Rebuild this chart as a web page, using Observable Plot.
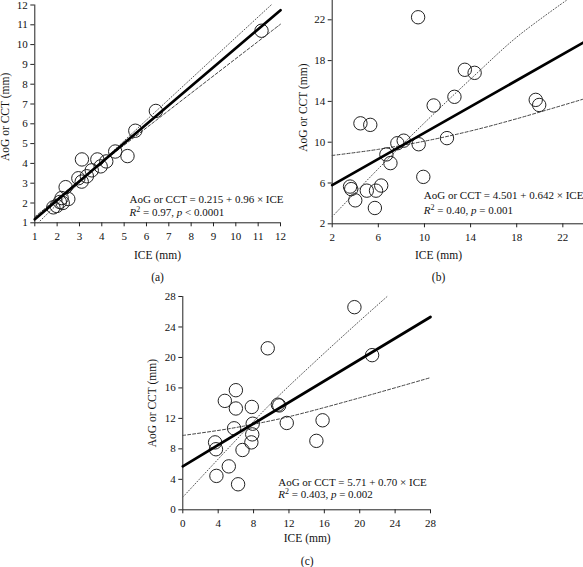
<!DOCTYPE html>
<html>
<head>
<meta charset="utf-8">
<script src="https://cdn.jsdelivr.net/npm/d3@7"></script>
<script src="https://cdn.jsdelivr.net/npm/@observablehq/plot@0.6"></script>
<style>
  html, body { margin: 0; padding: 0; background: #fff; }
  #root { position: relative; width: 583px; height: 567px; overflow: hidden; background: #fff; }
  #root > svg { position: absolute; }
</style>
</head>
<body>
<div id="root"></div>
<script>
// ---------- Data ----------
// Panel (a)
const aICE = [1.83, 1.98, 2.12, 2.25, 2.2, 2.5, 2.38, 2.95, 3.1, 3.11, 3.33, 3.55, 3.8, 3.95, 4.2, 4.6, 5.15, 5.5, 6.42, 11.15];
const aAoG = [1.78, 1.85, 2.05, 2.0, 2.25, 2.2, 2.8, 3.25, 3.08, 4.2, 3.35, 3.65, 4.2, 3.85, 4.1, 4.6, 4.37, 5.65, 6.65, 10.7];
const aDottedX = [1.15, 3.7, 11.58];
const aDottedY = [1.0, 3.77, 12.0];
const aDashedX = [1.0, 3.7, 12.0];
const aDashedY = [1.3, 3.77, 11.03];
const aTicksX = [1, 2, 3, 4, 5, 6, 7, 8, 9, 10, 11, 12];
const aTicksY = [1, 2, 3, 4, 5, 6, 7, 8, 9, 10, 11, 12];

// Panel (b)
const bICE = [3.55, 3.65, 4.0, 4.45, 5.0, 5.3, 5.7, 5.8, 6.25, 6.7, 7.05, 7.65, 8.2, 9.45, 9.5, 9.9, 10.8, 11.95, 12.6, 13.5, 14.35, 19.65, 19.95];
const bAoG = [5.65, 5.4, 4.3, 11.85, 5.25, 11.7, 3.55, 5.25, 5.75, 8.8, 7.95, 9.9, 10.15, 22.25, 9.8, 6.6, 13.6, 10.4, 14.45, 17.1, 16.8, 14.15, 13.65];
const bDottedX = [2, 6, 10, 14.3, 18, 22.3];
const bDottedY = [2.7, 7.4, 11.9, 16.5, 20.3, 23.9];
const bDashedX = [2, 6, 10, 14, 18, 24];
const bDashedY = [8.7, 9.3, 10.1, 11.1, 12.3, 14.3];
const bTicksX = [2, 6, 10, 14, 18, 22];
const bTicksY = [2, 6, 10, 14, 18, 22];

// Panel (c)
const cICE = [3.65, 3.75, 3.8, 4.75, 5.2, 5.8, 6.0, 6.0, 6.25, 6.75, 7.8, 7.9, 7.85, 7.75, 9.6, 10.75, 10.9, 11.75, 15.1, 15.8, 19.4, 21.4];
const cAoG = [8.85, 7.95, 4.45, 14.3, 5.7, 10.7, 15.7, 13.3, 3.35, 7.85, 13.5, 11.3, 9.9, 8.85, 21.2, 13.8, 13.7, 11.4, 9.05, 11.75, 26.6, 20.3];
const cDottedX = [0, 5, 10, 15, 20, 23.1];
const cDottedY = [1.66, 7.9, 14.0, 19.5, 24.8, 28];
const cDashedX = [0, 5, 10, 13.3, 20, 28];
const cDashedY = [9.76, 10.6, 11.7, 12.6, 14.7, 17.35];
const cTicksX = [0, 4, 8, 12, 16, 20, 24, 28];
const cTicksY = [0, 4, 8, 12, 16, 20, 24, 28];

// Regression equations (as printed)
const fitIntercepts = [0.215, 4.501, 5.71];
const fitSlopes = [0.96, 0.642, 0.70];
const equationTexts = ["AoG or CCT = 0.215 + 0.96 × ICE", "AoG or CCT = 4.501 + 0.642 × ICE", "AoG or CCT = 5.71 + 0.70 × ICE"];
const r2Texts = ["0.97", "0.40", "0.403"];
const pTexts = ["< 0.0001", "= 0.001", "= 0.002"];
const panelLabels = ["(a)", "(b)", "(c)"];
const xTitle = "ICE (mm)";
const yTitle = "AoG or CCT (mm)";

// ---------- Helpers ----------
const zip = (xs, ys) => xs.map((x, i) => ({x, y: ys[i]}));
const FONT = "'Liberation Serif', 'Times New Roman', serif";

function panel(i, o) {
  const fit = o.xDomain.map(x => ({x, y: fitIntercepts[i] + fitSlopes[i] * x}));
  const svg = Plot.plot({
    width: o.width, height: o.height,
    marginLeft: o.ml, marginRight: o.mr, marginTop: o.mt, marginBottom: o.mb,
    style: {fontFamily: FONT, fontSize: "11px", color: "#111", background: "transparent", overflow: "visible"},
    x: {domain: o.xDomain},
    y: {domain: o.yDomain},
    marks: [
      Plot.ruleX([o.xDomain[0]], {stroke: "#222", strokeWidth: 1}),
      Plot.ruleY([o.yDomain[0]], {stroke: "#222", strokeWidth: 1}),
      Plot.axisX({ticks: o.ticksX, tickSize: 4, tickPadding: 5, tickFormat: d => String(d), label: null, stroke: "#222"}),
      Plot.axisY({ticks: o.ticksY, tickSize: 4, tickPadding: 3, tickFormat: d => String(d), label: null, stroke: "#222"}),
      Plot.line(o.dotted, {x: "x", y: "y", stroke: "#555", strokeWidth: 1, strokeDasharray: "1,2", curve: "catmull-rom"}),
      Plot.line(o.dashed, {x: "x", y: "y", stroke: "#444", strokeWidth: 1, strokeDasharray: "3,2", curve: "catmull-rom"}),
      Plot.dot(o.points, {x: "x", y: "y", r: 6.7, stroke: "#222", strokeWidth: 1, fill: "none"}),
      Plot.line(fit, {x: "x", y: "y", stroke: "#000", strokeWidth: 2.7}),
      Plot.text([equationTexts[i]], {text: d => d, frameAnchor: "bottom-left", textAnchor: "start", lineAnchor: "middle", dx: o.eqDx, dy: o.eqDy1, fill: "#111"}),
      Plot.text(["R2 = " + r2Texts[i] + ", p " + pTexts[i]], {text: d => d, frameAnchor: "bottom-left", textAnchor: "start", lineAnchor: "middle", dx: o.eqDx, dy: o.eqDy2, fill: "#111"}),
      Plot.text([xTitle], {text: d => d, frameAnchor: "bottom-left", textAnchor: "middle", lineAnchor: "middle", dx: o.xtDx, dy: o.xtDy, fill: "#111", fontSize: 11.5}),
      Plot.text([yTitle], {text: d => d, frameAnchor: "left", textAnchor: "middle", lineAnchor: "middle", rotate: -90, dx: o.ytDx, dy: o.ytDy, fill: "#111", fontSize: 11.5}),
      Plot.text([panelLabels[i]], {text: d => d, frameAnchor: "bottom-left", textAnchor: "middle", lineAnchor: "middle", dx: o.xtDx, dy: o.capDy, fill: "#111", fontSize: 11.5})
    ]
  });
  // rich text for the R² line: italic R and p, superscript 2
  svg.querySelectorAll("text").forEach(t => {
    const s = t.textContent;
    if (s.startsWith("R2 = ")) {
      const ns = "http://www.w3.org/2000/svg";
      while (t.firstChild) t.removeChild(t.firstChild);
      const add = (txt, attrs) => {
        const sp = document.createElementNS(ns, "tspan");
        sp.textContent = txt;
        for (const k in attrs) sp.setAttribute(k, attrs[k]);
        t.appendChild(sp);
      };
      add("R", {"font-style": "italic"});
      add("2", {"dy": "-4", "font-size": "8"});
      add(" = " + r2Texts[i] + ", ", {"dy": "4"});
      add("p", {"font-style": "italic"});
      add(" " + pTexts[i], {});
    }
  });
  svg.style.left = o.left + "px";
  svg.style.top = o.top + "px";
  document.getElementById("root").appendChild(svg);
}

// Panel (a)
panel(0, {
  left: 0, top: 0, width: 290, height: 285, ml: 34.3, mr: 10, mt: 4.5, mb: 62.7,
  xDomain: [1, 12], yDomain: [1, 12], ticksX: aTicksX, ticksY: aTicksY,
  points: zip(aICE, aAoG), dotted: zip(aDottedX, aDottedY), dashed: zip(aDashedX, aDashedY),
  eqDx: 94.7, eqDy1: -23.3, eqDy2: -10,
  xtDx: 122.7, xtDy: 32.7, capDy: 54.7, ytDx: -29.3, ytDy: 3
});

// Panel (b)
panel(1, {
  left: 290, top: -5, width: 300, height: 290, ml: 41.7, mr: 4.6, mt: 3.9, mb: 61.7,
  xDomain: [2, 24], yDomain: [2, 24], ticksX: bTicksX, ticksY: bTicksY,
  points: zip(bICE, bAoG), dotted: zip(bDottedX, bDottedY), dashed: zip(bDashedX, bDashedY),
  eqDx: 91.6, eqDy1: -28.3, eqDy2: -13.3,
  xtDx: 106.3, xtDy: 31.7, capDy: 53.7, ytDx: -28.7, ytDy: -4
});

// Panel (c)
panel(2, {
  left: 140, top: 280, width: 300, height: 287, ml: 42.3, mr: 10, mt: 16, mb: 57.7,
  xDomain: [0, 28], yDomain: [0, 28], ticksX: cTicksX, ticksY: cTicksY,
  points: zip(cICE, cAoG), dotted: zip(cDottedX, cDottedY), dashed: zip(cDashedX, cDashedY),
  eqDx: 95.4, eqDy1: -27.6, eqDy2: -15,
  xtDx: 124.4, xtDy: 28.7, capDy: 51.5, ytDx: -30.6, ytDy: 0
});
</script>
</body>
</html>
